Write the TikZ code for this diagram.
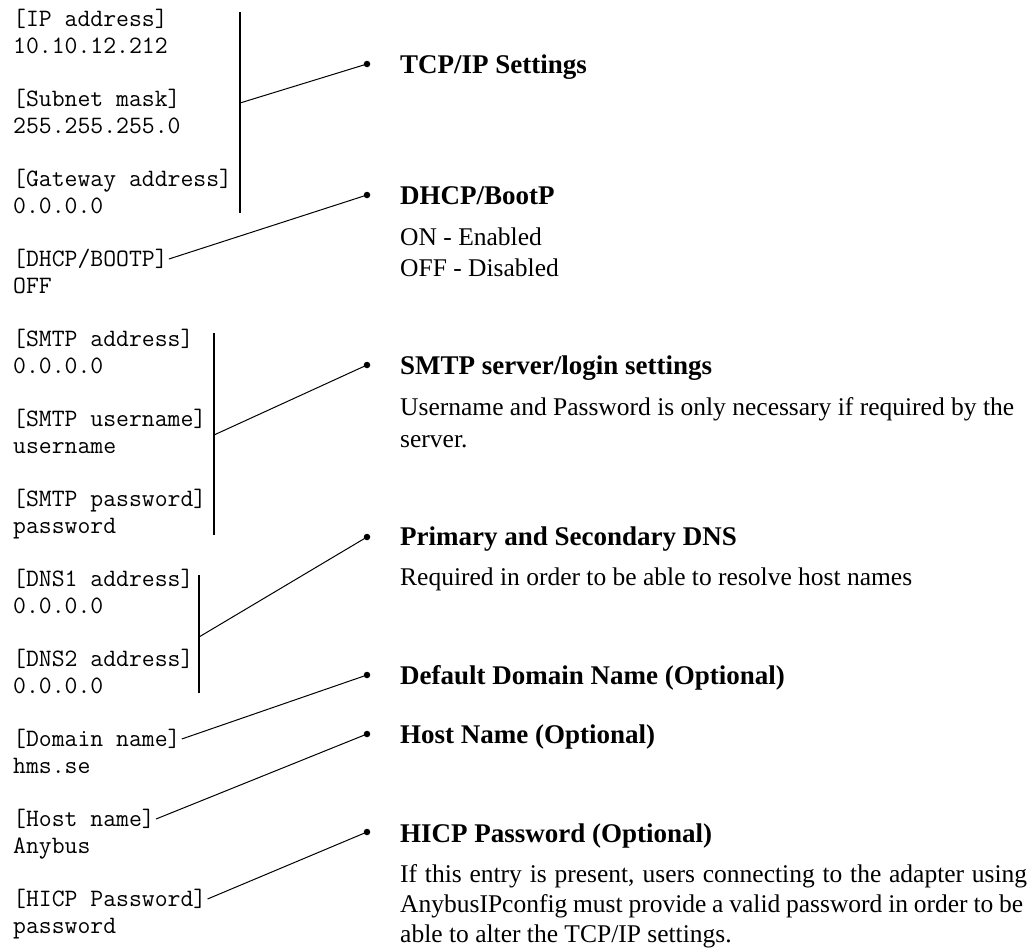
\documentclass[tikz,border=0pt]{standalone}
\usepackage{fontspec}
\setmainfont{Liberation Serif}
\begin{document}
\begin{tikzpicture}[x=1pt,y=-1pt,
  mono/.style={font=\ttfamily\fontsize{25}{29}\selectfont, anchor=base west, inner sep=0pt},
  head/.style={font=\bfseries\fontsize{27}{32}\selectfont, anchor=base west, inner sep=0pt},
  body/.style={font=\fontsize{25.5}{30}\selectfont, anchor=base west, inner sep=0pt},
  dot/.style={circle, fill=black, inner sep=0pt, minimum size=6.5pt},
  bar/.style={line width=2pt},
  conn/.style={line width=1pt}]
\useasboundingbox (0,0) rectangle (1029,948);
% left column
\node[mono] (l0) at (13,26) {[IP address]};
\node[mono] (v0) at (13,53) {10.10.12.212};
\node[mono] (l1) at (13,106) {[Subnet mask]};
\node[mono] (v1) at (13,133) {255.255.255.0};
\node[mono] (l2) at (13,186) {[Gateway address]};
\node[mono] (v2) at (13,213) {0.0.0.0};
\node[mono] (l3) at (13,266) {[DHCP/BOOTP]};
\node[mono] (v3) at (13,293) {OFF};
\node[mono] (l4) at (13,346) {[SMTP address]};
\node[mono] (v4) at (13,373) {0.0.0.0};
\node[mono] (l5) at (13,426) {[SMTP username]};
\node[mono] (v5) at (13,453) {username};
\node[mono] (l6) at (13,506) {[SMTP password]};
\node[mono] (v6) at (13,533) {password};
\node[mono] (l7) at (13,586) {[DNS1 address]};
\node[mono] (v7) at (13,613) {0.0.0.0};
\node[mono] (l8) at (13,666) {[DNS2 address]};
\node[mono] (v8) at (13,693) {0.0.0.0};
\node[mono] (l9) at (13,746) {[Domain name]};
\node[mono] (v9) at (13,773) {hms.se};
\node[mono] (l10) at (13,826) {[Host name]};
\node[mono] (v10) at (13,853) {Anybus};
\node[mono] (l11) at (13,906) {[HICP Password]};
\node[mono] (v11) at (13,933) {password};
% bars
\coordinate (b1t) at (240,12);  \coordinate (b1b) at (240,213); \coordinate (b1m) at (240,103);
\coordinate (b2t) at (214,333); \coordinate (b2b) at (214,535); \coordinate (b2m) at (214,435);
\coordinate (b3t) at (199,575); \coordinate (b3b) at (199,693); \coordinate (b3m) at (199,637);
\draw[bar] (b1t) -- (b1b);
\draw[bar] (b2t) -- (b2b);
\draw[bar] (b3t) -- (b3b);
% dots
\node[dot] (d1) at (367,64) {};
\node[dot] (d2) at (367,195) {};
\node[dot] (d3) at (367,365) {};
\node[dot] (d4) at (367,537) {};
\node[dot] (d5) at (367,675) {};
\node[dot] (d6) at (367,734) {};
\node[dot] (d7) at (367,832) {};
% connectors
\draw[conn] (b1m) -- (d1.center);
\draw[conn] ([xshift=1pt,yshift=7pt]l3.base east) -- (d2.center);
\draw[conn] (b2m) -- (d3.center);
\draw[conn] (b3m) -- (d4.center);
\draw[conn] ([xshift=1pt,yshift=7pt]l9.base east) -- (d5.center);
\draw[conn] ([xshift=1pt,yshift=7pt]l10.base east) -- (d6.center);
\draw[conn] ([xshift=1pt,yshift=7pt]l11.base east) -- (d7.center);
% right column
\node[head] (h1) at (400,73) {TCP/IP Settings};
\node[head] (h2) at (400,204) {DHCP/BootP};
\node[body] (t2a) at (400,245) {ON - Enabled};
\node[body] (t2b) at (400,276) {OFF - Disabled};
\node[head] (h3) at (400,374) {SMTP server/login settings};
\node[body] (t3a) at (400,415) {Username and Password is only necessary if required by the};
\node[body] (t3b) at (400,447) {server.};
\node[head] (h4) at (400,545) {Primary and Secondary DNS};
\node[body] (t4a) at (400,585) {Required in order to be able to resolve host names};
\node[head] (h5) at (400,684) {Default Domain Name (Optional)};
\node[head] (h6) at (400,743) {Host Name (Optional)};
\node[head] (h7) at (400,842) {HICP Password (Optional)};
\node[body] (t7a) at (400,882) {\makebox[627pt][s]{If this entry is present, users connecting to the adapter using}};
\node[body] (t7b) at (400,912) {\makebox[623pt][s]{AnybusIPconfig must provide a valid password in order to be}};
\node[body] (t7c) at (400,942) {able to alter the TCP/IP settings.};
\end{tikzpicture}
\end{document}
